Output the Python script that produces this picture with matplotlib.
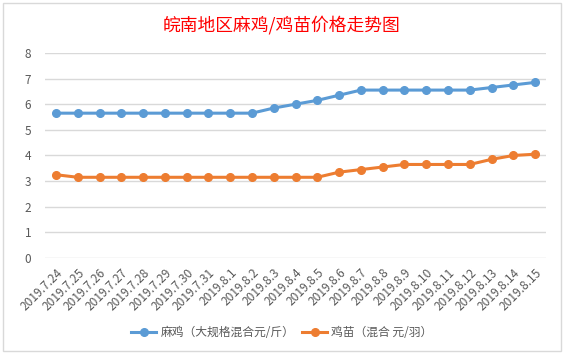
import matplotlib
matplotlib.use('Agg')
import matplotlib.pyplot as plt
from matplotlib.patches import Rectangle

plt.rcParams['font.family'] = ['Noto Sans CJK SC', 'DejaVu Sans']

dates = ['2019.7.24', '2019.7.25', '2019.7.26', '2019.7.27', '2019.7.28', '2019.7.29',
         '2019.7.30', '2019.7.31', '2019.8.1', '2019.8.2', '2019.8.3', '2019.8.4',
         '2019.8.5', '2019.8.6', '2019.8.7', '2019.8.8', '2019.8.9', '2019.8.10',
         '2019.8.11', '2019.8.12', '2019.8.13', '2019.8.14', '2019.8.15']
maji = [5.65, 5.65, 5.65, 5.65, 5.65, 5.65, 5.65, 5.65, 5.65, 5.65, 5.85, 6.0,
        6.15, 6.35, 6.55, 6.55, 6.55, 6.55, 6.55, 6.55, 6.65, 6.75, 6.85]
jimiao = [3.25, 3.15, 3.15, 3.15, 3.15, 3.15, 3.15, 3.15, 3.15, 3.15, 3.15, 3.15,
          3.15, 3.35, 3.45, 3.55, 3.65, 3.65, 3.65, 3.65, 3.85, 4.0, 4.05]
label1 = '麻鸡（大规格混合元/斤）'
label2 = '鸡苗（混合 元/羽）'

fig = plt.figure(figsize=(5.64, 3.55), dpi=100)
ax = fig.add_axes([0.08, 0.273, 0.888, 0.578])

x = range(len(dates))
ax.plot(x, maji, color='#5B9BD5', lw=2.2, marker='o', ms=5.5, label=label1)
ax.plot(x, jimiao, color='#ED7D31', lw=2.2, marker='o', ms=5.5, label=label2)

ax.set_xlim(-0.5, len(dates) - 0.5)
ax.set_ylim(0, 8)
ax.set_yticks(range(0, 9))
ax.set_xticks(list(x))
ax.set_xticklabels(dates, rotation=45, ha='right', va='top', rotation_mode='anchor',
                   fontsize=8.6, color='#595959')
ax.tick_params(axis='y', labelsize=8.5, labelcolor='#595959', length=0, pad=10)
ax.tick_params(axis='x', length=0, pad=6)
ax.grid(axis='y', color='#D9D9D9', lw=1)
ax.set_axisbelow(True)
for s in ax.spines.values():
    s.set_visible(False)

fig.text(0.5, 0.928, '皖南地区麻鸡/鸡苗价格走势图', ha='center', va='center',
         fontsize=12.8, color='#FF0000')
fig.legend(loc='center', bbox_to_anchor=(0.5, 0.062), ncol=2, frameon=False,
           fontsize=8.5, labelcolor='#595959', handlelength=2.1, handletextpad=0.35,
           columnspacing=0.7)

fig.patches.append(Rectangle((0.006, 0.01), 0.988, 0.982, transform=fig.transFigure,
                             fill=False, edgecolor='#D9D9D9', lw=1))

fig.savefig('out.png', dpi=100)
